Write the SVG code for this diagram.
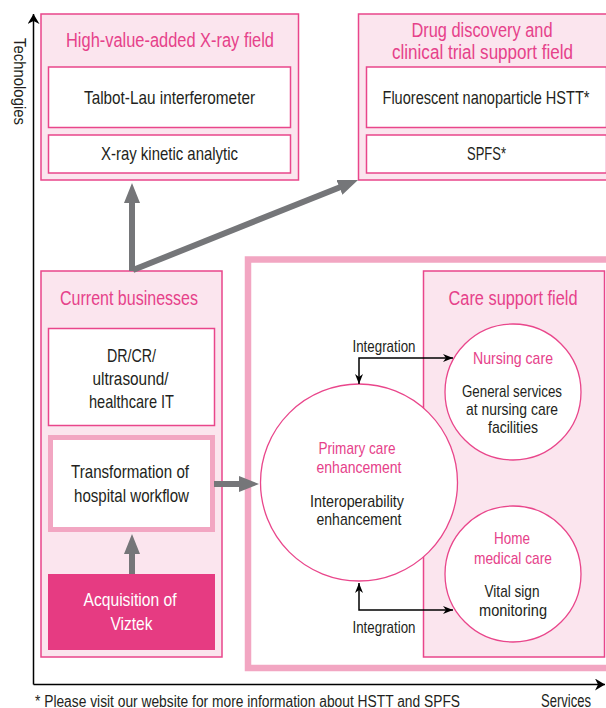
<svg xmlns="http://www.w3.org/2000/svg" width="606" height="708" viewBox="0 0 606 708">
<style>
text{font-family:"Liberation Sans",Arial,sans-serif;text-anchor:middle;fill:#231f20}
.t{font-size:19.5px;fill:#e6418a}
.b{font-size:19px}
.c{font-size:17px}
.cp{font-size:17px;fill:#e6418a}
.s{font-size:16.5px}
.field{fill:#fbe5ee;stroke:#e9468b;stroke-width:1.5}
.inner{fill:#fff;stroke:#e9468b;stroke-width:1.5}
.thick{fill:#fff;stroke:#f2a6c2}
.circ{fill:#fff;stroke:#e9468b;stroke-width:1.3}
.garrow{stroke:#757679;stroke-width:6;fill:none}
.barrow{stroke:#000;stroke-width:1.5;fill:none}
.axis{stroke:#000;stroke-width:1.5;fill:none}
</style>
<defs>
<marker id="gh" viewBox="0 0 20 16" refX="6" refY="8" markerWidth="20" markerHeight="16" markerUnits="userSpaceOnUse" orient="auto">
<path d="M0,0 L20,8 L0,16 z" fill="#757679"/>
</marker>
<marker id="bh" viewBox="0 0 10 8" refX="10" refY="4" markerWidth="10" markerHeight="8" markerUnits="userSpaceOnUse" orient="auto-start-reverse">
<path d="M0,0 L10,4 L0,8 L3,4 z" fill="#000"/>
</marker>
<marker id="ah" viewBox="0 0 10 12" refX="10" refY="6" markerWidth="10" markerHeight="12" markerUnits="userSpaceOnUse" orient="auto">
<path d="M0,0 L10,6 L0,12 L3,6 z" fill="#000"/>
</marker>
</defs>

<g id="axes">
<path class="axis" d="M33.5,684.5 L33.5,14" marker-end="url(#ah)"/>
<path class="axis" d="M33.5,684.5 L605,684.5" marker-end="url(#ah)"/>
<text transform="translate(13.5,38) rotate(90)" style="font-size:16.5px;text-anchor:start" textLength="87" lengthAdjust="spacingAndGlyphs">Technologies</text>
<text x="566" y="707" style="font-size:17.5px" textLength="50" lengthAdjust="spacingAndGlyphs">Services</text>
</g>

<g id="xray-field">
<rect class="field" x="41" y="14" width="257.5" height="166"/>
<text class="t" x="170" y="47" textLength="208" lengthAdjust="spacingAndGlyphs">High-value-added X-ray field</text>
<g id="talbot">
<rect class="inner" x="48.5" y="67" width="242" height="60.5"/>
<text class="b" x="169.5" y="104" textLength="171" lengthAdjust="spacingAndGlyphs">Talbot-Lau interferometer</text>
</g>
<g id="kinetic">
<rect class="inner" x="48.5" y="135" width="242" height="38"/>
<text class="b" x="169.5" y="159.5" textLength="137" lengthAdjust="spacingAndGlyphs">X-ray kinetic analytic</text>
</g>
</g>

<g id="drug-field">
<rect class="field" x="358.5" y="14" width="260" height="166"/>
<text class="t" x="482" y="37" textLength="141" lengthAdjust="spacingAndGlyphs">Drug discovery and</text>
<text class="t" x="482.5" y="58.5" textLength="181" lengthAdjust="spacingAndGlyphs">clinical trial support field</text>
<g id="hstt">
<rect class="inner" x="366.5" y="67" width="240" height="60.5"/>
<text class="b" x="486" y="104" textLength="207" lengthAdjust="spacingAndGlyphs">Fluorescent nanoparticle HSTT*</text>
</g>
<g id="spfs">
<rect class="inner" x="366.5" y="135" width="240" height="38"/>
<text class="b" x="486.5" y="159.5" textLength="39" lengthAdjust="spacingAndGlyphs">SPFS*</text>
</g>
</g>

<g id="current">
<rect class="field" x="41" y="271" width="181" height="386"/>
<text class="t" x="129" y="305" textLength="138" lengthAdjust="spacingAndGlyphs">Current businesses</text>
<g id="drcr">
<rect class="inner" x="48.5" y="328.5" width="166" height="97"/>
<text class="b" x="131.5" y="361.5" textLength="49" lengthAdjust="spacingAndGlyphs">DR/CR/</text>
<text class="b" x="130.5" y="385" textLength="76" lengthAdjust="spacingAndGlyphs">ultrasound/</text>
<text class="b" x="131.5" y="408" textLength="85" lengthAdjust="spacingAndGlyphs">healthcare IT</text>
</g>
<g id="workflow">
<rect class="thick" x="50.5" y="437.5" width="162" height="92" stroke-width="5"/>
<text class="b" x="130" y="478" textLength="118" lengthAdjust="spacingAndGlyphs">Transformation of</text>
<text class="b" x="131.5" y="501.5" textLength="115" lengthAdjust="spacingAndGlyphs">hospital workflow</text>
</g>
<g id="viztek">
<rect x="48" y="574" width="167" height="76" fill="#e63b82"/>
<text class="b" x="130" y="606" style="fill:#fff" textLength="93" lengthAdjust="spacingAndGlyphs">Acquisition of</text>
<text class="b" x="131.5" y="630" style="fill:#fff" textLength="42" lengthAdjust="spacingAndGlyphs">Viztek</text>
</g>
</g>

<g id="care-area">
<rect class="thick" x="248" y="259.5" width="380" height="408.5" stroke-width="6.5"/>
</g>

<g id="care-support">
<rect class="field" x="423.5" y="271" width="181" height="386"/>
<text class="t" x="513" y="305" textLength="129" lengthAdjust="spacingAndGlyphs">Care support field</text>
</g>

<g id="nursing">
<circle class="circ" cx="513" cy="392" r="68"/>
<text class="cp" x="513" y="363.5" textLength="80" lengthAdjust="spacingAndGlyphs">Nursing care</text>
<text class="c" x="512" y="396.5" textLength="100" lengthAdjust="spacingAndGlyphs">General services</text>
<text class="c" x="512" y="415" textLength="92" lengthAdjust="spacingAndGlyphs">at nursing care</text>
<text class="c" x="513" y="433" textLength="50" lengthAdjust="spacingAndGlyphs">facilities</text>
</g>

<g id="home">
<circle class="circ" cx="513" cy="574" r="68"/>
<text class="cp" x="512" y="544" textLength="36" lengthAdjust="spacingAndGlyphs">Home</text>
<text class="cp" x="513" y="564" textLength="78" lengthAdjust="spacingAndGlyphs">medical care</text>
<text class="c" x="512" y="597" textLength="55" lengthAdjust="spacingAndGlyphs">Vital sign</text>
<text class="c" x="513" y="616" textLength="68" lengthAdjust="spacingAndGlyphs">monitoring</text>
</g>

<g id="primary">
<circle class="circ" cx="359" cy="482.5" r="98.5"/>
<text class="cp" x="357" y="454" textLength="77" lengthAdjust="spacingAndGlyphs">Primary care</text>
<text class="cp" x="359" y="472.5" textLength="85" lengthAdjust="spacingAndGlyphs">enhancement</text>
<text class="c" x="357" y="506.5" textLength="94" lengthAdjust="spacingAndGlyphs">Interoperability</text>
<text class="c" x="359" y="525" textLength="85" lengthAdjust="spacingAndGlyphs">enhancement</text>
</g>

<g id="connectors">
<path class="garrow" d="M132,271 L132,197" marker-end="url(#gh)"/>
<path class="garrow" d="M133,270 L345,185.2" marker-end="url(#gh)"/>
<path class="garrow" d="M132,574 L132,548" marker-end="url(#gh)"/>
<path class="garrow" d="M214,484 L245,484" marker-end="url(#gh)"/>
<path class="barrow" d="M359,384 L359,358 L453,358" marker-start="url(#bh)" marker-end="url(#bh)"/>
<text class="s" x="384" y="351.5" textLength="63" lengthAdjust="spacingAndGlyphs">Integration</text>
<path class="barrow" d="M359,583 L359,610 L453,610" marker-start="url(#bh)" marker-end="url(#bh)"/>
<text class="s" x="384" y="633" textLength="63" lengthAdjust="spacingAndGlyphs">Integration</text>
</g>

<text x="35" y="707" style="font-size:16px;text-anchor:start" textLength="425" lengthAdjust="spacingAndGlyphs">* Please visit our website for more information about HSTT and SPFS</text>
</svg>
